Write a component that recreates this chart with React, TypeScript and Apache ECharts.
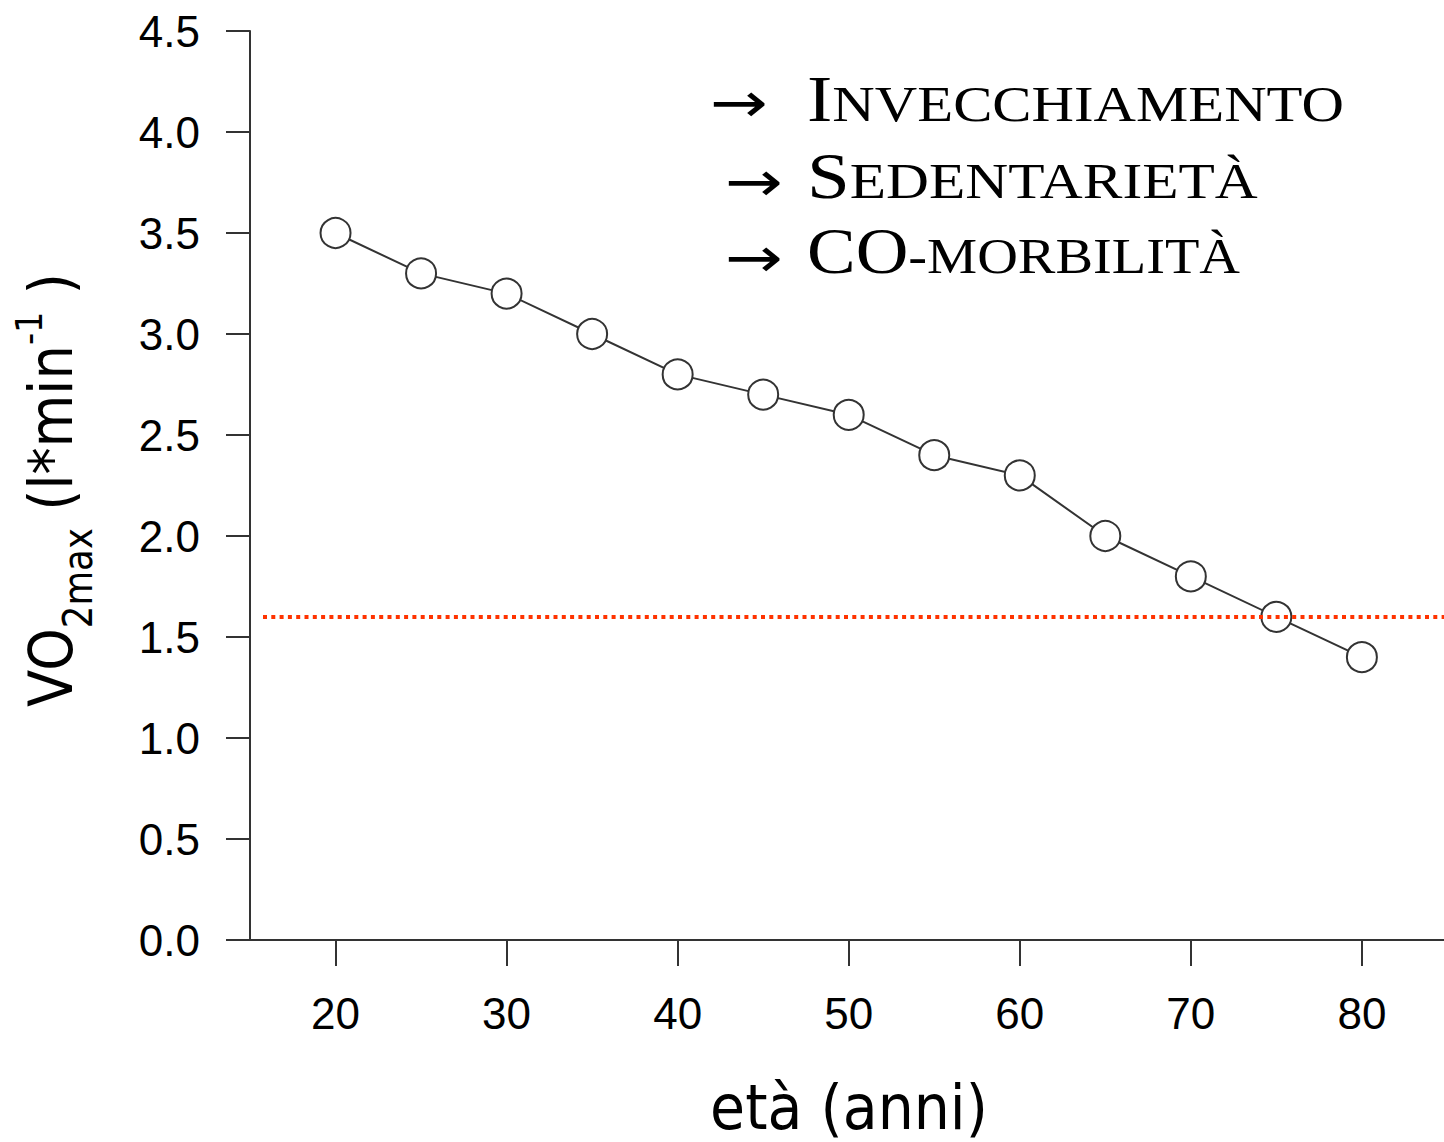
import React, { useEffect, useRef } from "react";
import * as echarts from "echarts";

// ---------- data ----------
const ages = [20, 25, 30, 35, 40, 45, 50, 55, 60, 65, 70, 75, 80];
const vo2max = [3.5, 3.3, 3.2, 3.0, 2.8, 2.7, 2.6, 2.4, 2.3, 2.0, 1.8, 1.6, 1.4];
const xTickValues = [20, 30, 40, 50, 60, 70, 80];
const yMin = 0;
const yMax = 4.5;
const yStep = 0.5;
const xMin = 15;
const xMax = 84.8;
const thresholdValue = 1.6;
const thresholdStartAge = 15.76;
const factorCaps = ["I", "S", "CO"];
const factorRest = ["NVECCHIAMENTO", "EDENTARIETÀ", "-MORBILITÀ"];
const xTitle = "età (anni)";
const yTitleParts = ["VO", "2max", " (l*min", "-1", " )"];

// ---------- helpers ----------
const measureCtx: CanvasRenderingContext2D | null =
  typeof document !== "undefined" ? document.createElement("canvas").getContext("2d") : null;

function textWidth(t: string, size: number, family: string): number {
  if (!measureCtx) return t.length * size * 0.6;
  measureCtx.font = `${size}px "${family}"`;
  return measureCtx.measureText(t).width;
}

// offset of alphabetic baseline below the "central" baseline, in em
const CENTRAL_K: Record<string, number> = {
  "Liberation Serif": 0.3375,
  "DejaVu Sans": 0.346,
  "Liberation Sans": 0.3465,
};

type Seg = { text: string; size: number; dy?: number };

function richRow(
  x0: number,
  baseline: number,
  segs: Seg[],
  family: string,
  targetWidth: number | null,
  fill: string
) {
  const widths = segs.map((s) => textWidth(s.text, s.size, family));
  const natural = widths.reduce((a, b) => a + b, 0);
  const sc = targetWidth ? targetWidth / natural : 1;
  const k = CENTRAL_K[family] ?? 0.34;
  let acc = 0;
  return segs.map((s, i) => {
    const el = {
      type: "text",
      x: x0 + acc * sc,
      y: baseline + (s.dy || 0) - k * s.size,
      scaleX: sc,
      silent: true,
      style: {
        text: s.text,
        fontSize: s.size,
        fontFamily: family,
        fill,
        align: "left",
        verticalAlign: "middle",
      },
    };
    acc += widths[i];
    return el;
  });
}

export default function App() {
  const ref = useRef<HTMLDivElement>(null);

  useEffect(() => {
    if (!ref.current) return;
    const chart = echarts.init(ref.current, null, { renderer: "svg" });

    // factor list (top right)
    const lineBaselines = [121, 198, 273];
    const lineTargets = [537, 451, 433];
    const arrowX = [710, 725, 725];
    const arrowY = [103, 182, 258];
    const arrowSize = 56;
    const arrowW = textWidth("→", arrowSize, "DejaVu Sans");
    const factorEls: any[] = [];
    factorCaps.forEach((cap, i) => {
      factorEls.push({
        type: "text",
        x: arrowX[i],
        y: arrowY[i],
        scaleX: 58 / arrowW,
        silent: true,
        style: {
          text: "→",
          fontSize: arrowSize,
          fontFamily: "DejaVu Sans",
          fill: "#000",
          align: "left",
          verticalAlign: "middle",
        },
      });
      factorEls.push(
        ...richRow(
          807,
          lineBaselines[i],
          [
            { text: cap, size: 66 },
            { text: factorRest[i], size: 51 },
          ],
          "Liberation Serif",
          lineTargets[i],
          "#000"
        )
      );
    });

    // rotated y-axis title with subscript / superscript
    const yTitleEls = richRow(
      0,
      0,
      [
        { text: yTitleParts[0], size: 61 },
        { text: yTitleParts[1], size: 40, dy: 20 },
        { text: yTitleParts[2], size: 61 },
        { text: yTitleParts[3], size: 38, dy: -30 },
        { text: yTitleParts[4], size: 61 },
      ],
      "DejaVu Sans",
      434,
      "#000"
    );

    // x-axis title
    const xTitleSize = 62;
    const xTitleW = textWidth(xTitle, xTitleSize, "DejaVu Sans");

    chart.setOption({
      animation: false,
      backgroundColor: "#ffffff",
      grid: { left: 250, right: 0, top: 31, bottom: 202, containLabel: false },
      xAxis: {
        type: "value",
        min: xMin,
        max: xMax,
        splitLine: { show: false },
        axisLine: { show: true, lineStyle: { color: "#333", width: 2 } },
        axisTick: {
          show: true,
          length: 26,
          customValues: xTickValues,
          lineStyle: { color: "#333", width: 2 },
        },
        axisLabel: {
          customValues: xTickValues,
          fontFamily: "Liberation Sans",
          fontSize: 44,
          color: "#000",
          margin: 51,
        },
      },
      yAxis: {
        type: "value",
        min: yMin,
        max: yMax,
        interval: yStep,
        splitLine: { show: false },
        axisLine: { show: true, lineStyle: { color: "#333", width: 2 } },
        axisTick: { show: true, length: 24, lineStyle: { color: "#333", width: 2 } },
        axisLabel: {
          formatter: (v: number) => v.toFixed(1),
          fontFamily: "Liberation Sans",
          fontSize: 44,
          color: "#000",
          margin: 50,
        },
      },
      series: [
        {
          type: "line",
          data: ages.map((a, i) => [a, vo2max[i]]),
          symbol: "circle",
          symbolSize: 30,
          lineStyle: { color: "#333", width: 2 },
          itemStyle: { color: "#ffffff", borderColor: "#333", borderWidth: 2 },
          silent: true,
          markLine: {
            silent: true,
            symbol: ["none", "none"],
            label: { show: false },
            lineStyle: { color: "#FF3300", width: 4, type: [4, 4.3] },
            data: [
              [
                { coord: [thresholdStartAge, thresholdValue] },
                { coord: [xMax, thresholdValue] },
              ],
            ],
          },
        },
      ],
      graphic: {
        elements: [
          {
            type: "group",
            x: 72,
            y: 707,
            rotation: Math.PI / 2,
            silent: true,
            children: yTitleEls,
          },
          {
            type: "text",
            x: 849,
            y: 1129 - CENTRAL_K["DejaVu Sans"] * xTitleSize,
            scaleX: 278 / xTitleW,
            silent: true,
            style: {
              text: xTitle,
              fontSize: xTitleSize,
              fontFamily: "DejaVu Sans",
              lineHeight: 54,
              fill: "#000",
              align: "center",
              verticalAlign: "middle",
            },
          },
          ...factorEls,
        ],
      },
    });

    return () => chart.dispose();
  }, []);

  return (
    <div
      ref={ref}
      style={{
        position: "absolute",
        left: 0,
        top: 0,
        width: 1444,
        height: 1142,
        background: "#fff",
      }}
    />
  );
}
